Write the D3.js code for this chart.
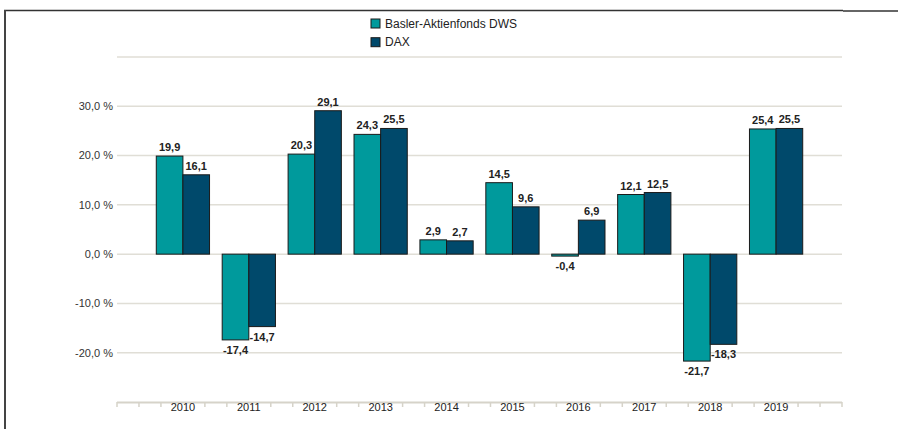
<html lang="de">
<head>
<meta charset="UTF-8">
<title>Basler-Aktienfonds DWS vs DAX</title>
<style>
  body { margin: 0; background: #fff; font-family: "Liberation Sans", Arial, sans-serif; }
  svg { display: block; }
  .grid line { stroke: #e0ded6; stroke-width: 1.5; }
  .ylab { font-size: 11px; fill: #333; }
  .xlab { font-size: 11px; fill: #222; }
  .val { font-size: 11px; font-weight: bold; fill: #222; }
  .legend text { font-size: 12px; fill: #222; }
</style>
<script src="https://d3js.org/d3.v7.min.js"></script>
</head>
<body>
<div id="chart"></div>
<script>
  const years = ["2010", "2011", "2012", "2013", "2014", "2015", "2016", "2017", "2018", "2019"];
  const seriesNames = ["Basler-Aktienfonds DWS", "DAX"];
  const fondsValues = [19.9, -17.4, 20.3, 24.3, 2.9, 14.5, -0.4, 12.1, -21.7, 25.4];
  const daxValues = [16.1, -14.7, 29.1, 25.5, 2.7, 9.6, 6.9, 12.5, -18.3, 25.5];
  const yTicks = [-20, -10, 0, 10, 20, 30];
  const gridTicks = [-20, -10, 0, 10, 20, 30, 40];
  const colors = ["#009a9c", "#00496b"];

  const W = 898, H = 429;
  const plotLeft = 117, plotRight = 842, plotTop = 57, plotBottom = 402;

  const svg = d3.select("#chart").append("svg")
    .attr("width", W).attr("height", H);

  // frame
  svg.append("line").attr("x1", 4).attr("x2", 843).attr("y1", 10.5).attr("y2", 10.5)
    .attr("stroke", "#333").attr("stroke-width", 1.5);
  svg.append("line").attr("x1", 843).attr("x2", W).attr("y1", 11).attr("y2", 11)
    .attr("stroke", "#666").attr("stroke-width", 2);
  svg.append("line").attr("x1", 5).attr("x2", 5).attr("y1", 10).attr("y2", H)
    .attr("stroke", "#444").attr("stroke-width", 2);

  const x = d3.scaleBand().domain(years).range([plotLeft, plotRight]).paddingInner(0).paddingOuter(0.5);
  const y = d3.scaleLinear().domain([-30, 40]).range([plotBottom, plotTop]);

  const barW = x.step() * 0.404;
  const xs = d3.scaleBand().domain(seriesNames).range([0, barW * 2]);

  // gridlines
  svg.append("g").attr("class", "grid")
    .selectAll("line").data(gridTicks).join("line")
    .attr("x1", plotLeft).attr("x2", plotRight)
    .attr("y1", d => y(d)).attr("y2", d => y(d));

  // y labels
  const fmt = d => d.toFixed(1).replace(".", ",") + " %";
  svg.append("g").selectAll("text").data(yTicks).join("text")
    .attr("class", "ylab")
    .attr("x", 113).attr("y", d => y(d)).attr("dy", "0.35em")
    .attr("text-anchor", "end")
    .text(fmt);

  // x axis line + minor ticks
  svg.append("line").attr("x1", plotLeft).attr("x2", plotRight)
    .attr("y1", plotBottom + 0.5).attr("y2", plotBottom + 0.5)
    .attr("stroke", "#d6d3c9").attr("stroke-width", 2);
  const third = x.step() / 3;
  const tickIdx = d3.range(0, 34).filter(k => k === 0 || k === 33 || k % 3 !== 0);
  svg.append("g").selectAll("line").data(tickIdx).join("line")
    .attr("x1", k => plotLeft + k * third).attr("x2", k => plotLeft + k * third)
    .attr("y1", plotBottom).attr("y2", plotBottom + 5)
    .attr("stroke", "#d6d3c9").attr("stroke-width", 1.5);

  svg.append("g").selectAll("text").data(years).join("text")
    .attr("class", "xlab")
    .attr("x", d => x(d) + x.bandwidth() / 2)
    .attr("y", 411)
    .attr("text-anchor", "middle")
    .text(d => d);

  // bars
  const rows = [];
  years.forEach((yr, i) => {
    rows.push({ year: yr, s: seriesNames[0], v: fondsValues[i], c: colors[0] });
    rows.push({ year: yr, s: seriesNames[1], v: daxValues[i], c: colors[1] });
  });
  const bx = d => x(d.year) + x.bandwidth() / 2 - barW + xs(d.s);

  svg.append("g").selectAll("rect").data(rows).join("rect")
    .attr("x", bx)
    .attr("y", d => y(Math.max(0, d.v)))
    .attr("width", xs.bandwidth())
    .attr("height", d => Math.abs(y(d.v) - y(0)))
    .attr("fill", d => d.c)
    .attr("stroke", "#1a1a1a").attr("stroke-width", 1);

  svg.append("g").selectAll("text").data(rows).join("text")
    .attr("class", "val")
    .attr("x", d => bx(d) + xs.bandwidth() / 2)
    .attr("y", d => d.v >= 0 ? y(d.v) - 5 : y(d.v) + 14)
    .attr("text-anchor", "middle")
    .text(d => d.v.toFixed(1).replace(".", ","));

  // legend
  const lg = svg.append("g").attr("class", "legend");
  seriesNames.forEach((n, i) => {
    lg.append("rect").attr("x", 371).attr("y", 19 + i * 18.7).attr("width", 9).attr("height", 9)
      .attr("fill", colors[i]).attr("stroke", "#1a1a1a").attr("stroke-width", 1);
    lg.append("text").attr("x", 385).attr("y", 27.5 + i * 18.7).text(n);
  });
</script>
</body>
</html>
